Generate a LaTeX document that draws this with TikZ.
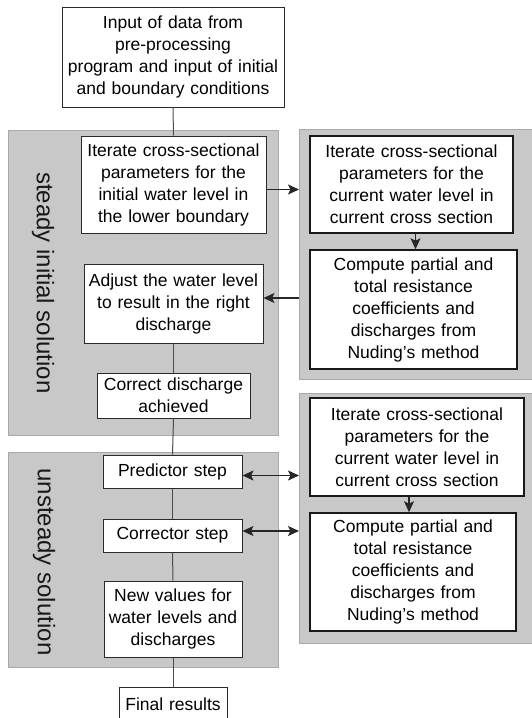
\documentclass[tikz,border=0pt]{standalone}
\usepackage{fontspec}
\setmainfont{Liberation Sans}
\usetikzlibrary{arrows.meta,calc}
\definecolor{panelgray}{HTML}{C8C8C9}
\definecolor{paneledge}{HTML}{A9A9AA}
\definecolor{linegray}{HTML}{4A4A4A}
\definecolor{boxedge}{HTML}{2A2A2A}
\begin{document}
\begin{tikzpicture}[x=1pt,y=-1pt,
  panel/.style={fill=panelgray,draw=paneledge,line width=1pt},
  lbox/.style={draw=boxedge,fill=white,line width=1pt,inner sep=0pt,align=center,
    font=\fontsize{17.5}{22}\selectfont},
  rbox/.style={draw=black!90,fill=white,line width=1.6pt,inner sep=0pt,align=center,
    font=\fontsize{17.5}{22}\selectfont},
  conn/.style={draw=linegray,line width=1pt},
  arr/.style={draw=black!85,line width=1.3pt,-{Stealth[length=11pt,width=10pt,inset=2.5pt]}},
  darr/.style={draw=black!85,line width=1.3pt,{Stealth[length=11pt,width=10pt,inset=2.5pt]}-{Stealth[length=11pt,width=10pt,inset=2.5pt]}},
  vlabel/.style={rotate=-90,font=\fontsize{24}{28}\selectfont,text=black!90}
]
\useasboundingbox (0,0) rectangle (532,718);
\fill[white] (0,0) rectangle (532,718);

% panels
\path[panel] (8,130) rectangle (278,435);
\path[panel] (8,452) rectangle (278,667);
\path[panel] (299,129) rectangle (545,379);
\path[panel] (299,393) rectangle (545,643);
\coordinate (RP1) at (299,254);
\coordinate (RP2) at (299,518);

\node[vlabel] (lab1) at (43,283) {steady initial solution};
\node[vlabel] (lab2) at (44,562) {unsteady solution};

% left column
\node[lbox,minimum width=222pt,minimum height=100pt,text width=215pt] (top) at (173,57)
  {Input of data from\\pre-processing\\program and input of initial\\and boundary conditions};
\node[lbox,minimum width=185pt,minimum height=97pt,text width=180pt] (L1) at (173.5,184.5)
  {Iterate cross-sectional\\parameters for the\\initial water level in\\the lower boundary};
\node[lbox,minimum width=179pt,minimum height=79pt,text width=175pt] (L2) at (173.5,303.5)
  {Adjust the water level\\to result in the right\\discharge};
\node[lbox,minimum width=153pt,minimum height=45pt,text width=150pt] (L3) at (173.5,395.5)
  {Correct discharge\\achieved};
\node[lbox,minimum width=139pt,minimum height=33pt,text width=135pt] (P) at (172.5,471.5)
  {Predictor step};
\node[lbox,minimum width=139pt,minimum height=33pt,text width=135pt] (C) at (172.5,535.5)
  {Corrector step};
\node[lbox,minimum width=138pt,minimum height=76pt,text width=135pt] (N) at (173,619)
  {New values for\\water levels and\\discharges};
\node[lbox,minimum width=108pt,minimum height=34pt,text width=105pt] (F) at (173,704)
  {Final results};

% right column
\node[rbox,minimum width=203pt,minimum height=97pt,text width=200pt] (R1) at (411.5,184.5)
  {Iterate cross-sectional\\parameters for the\\current water level in\\current cross section};
\node[rbox,minimum width=207pt,minimum height=119pt,text width=200pt] (R2) at (413.5,309.5)
  {Compute partial and\\total resistance\\coefficients and\\discharges from\\Nuding’s method};
\node[rbox,minimum width=214pt,minimum height=98pt,text width=205pt] (R3) at (417,447)
  {Iterate cross-sectional\\parameters for the\\current water level in\\current cross section};
\node[rbox,minimum width=206pt,minimum height=118pt,text width=200pt] (R4) at (413,572)
  {Compute partial and\\total resistance\\coefficients and\\discharges from\\Nuding’s method};

% vertical connectors
\draw[conn] (top.south) -- (L1.north);
\draw[conn] (L2.south) -- (L3.north);
\draw[conn] (L3.south) -- (P.north);
\draw[conn] (P.south) -- (C.north);
\draw[conn] (C.south) -- (N.north);
\draw[conn] (N.south) -- (F.north);

% arrows
\draw[arr] ([yshift=-5pt]L1.east) -- ([yshift=-5pt]L1.east -| RP1);
\draw[arr] ([xshift=4pt]R1.south) -- ([xshift=4pt]R1.south |- R2.north);
\draw[arr] ([yshift=5.5pt]L2.east -| RP1) -- ([yshift=5.5pt]L2.east);
\draw[arr] ([xshift=-4pt]R4.north |- R3.south) -- ([xshift=-4pt]R4.north);
\draw[darr] ([yshift=-4pt]P.east) -- ([yshift=-4pt]P.east -| RP2);
\draw[darr] ([yshift=4.5pt]C.east) -- ([yshift=4.5pt]C.east -| RP2);
\end{tikzpicture}
\end{document}
